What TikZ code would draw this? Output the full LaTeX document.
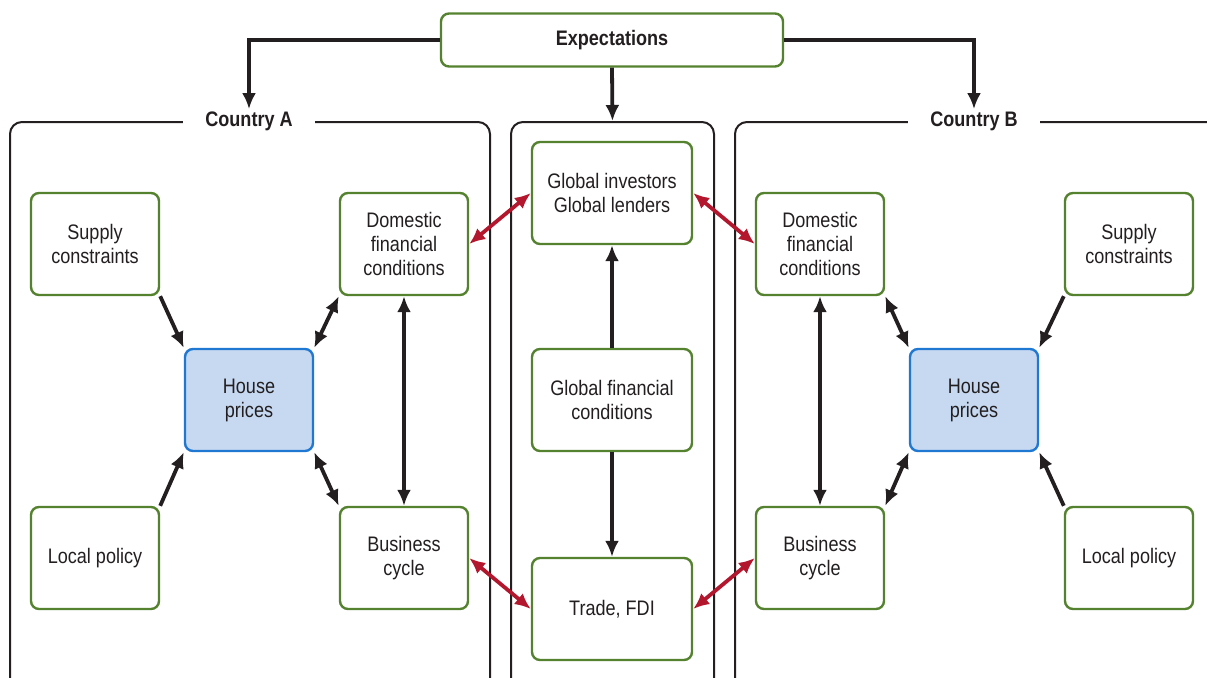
\documentclass[tikz,border=0pt]{standalone}
\usepackage{fontspec}
\setmainfont{Liberation Sans}[FakeStretch=0.86]
\usetikzlibrary{arrows.meta}
\definecolor{boxgreen}{HTML}{55822F}
\definecolor{houseblue}{HTML}{1F78D1}
\definecolor{housefill}{HTML}{C6D9F1}
\definecolor{linkred}{HTML}{B3172E}
\definecolor{linkblack}{HTML}{231F20}

\begin{document}
\begin{tikzpicture}[x=0.5pt, y=-0.5pt, >={Latex[length=8pt,width=7pt]},
  font=\fontsize{10.5}{12}\selectfont,
  box/.style={draw=boxgreen, line width=1.2pt, rounded corners=4pt, fill=white, align=center,
    minimum width=64pt, minimum height=51pt, inner sep=2pt, text=linkblack},
  housebox/.style={box, draw=houseblue, fill=housefill},
  panel/.style={draw=linkblack, line width=1pt, rounded corners=6pt, minimum height=284pt},
  paneltitle/.style={fill=white, font=\fontsize{10.5}{12}\selectfont\bfseries, inner xsep=11pt, inner ysep=1pt, text=linkblack},
  link/.style={draw=linkblack, line width=1.9pt},
  redlink/.style={draw=linkred, line width=1.9pt}]
\useasboundingbox (0,0) rectangle (1207,677);

% panels
\node[panel, minimum width=240pt] (panelA) at (250,406) {};
\node[panel, minimum width=101.5pt] (panelM) at (612.5,406) {};
\node[panel, minimum width=242.5pt] (panelB) at (977.5,406) {};
\node[paneltitle] (ctyA) at (249,121) {Country A};
\node[paneltitle] (ctyB) at (974,121) {Country B};

% top
\node[box, minimum width=171pt, minimum height=26.5pt, font=\fontsize{10.5}{12}\selectfont\bfseries] (exp) at (612,40) {Expectations};

% country A
\node[box] (supA) at (95,244) {Supply\\constraints};
\node[box] (domA) at (404,244) {Domestic\\financial\\conditions};
\node[housebox] (houseA) at (249,400) {House\\prices};
\node[box] (polA) at (95,558) {Local policy};
\node[box] (busA) at (404,558) {Business\\cycle};

% global
\node[box, minimum width=80pt] (ginv) at (612,193) {Global investors\\Global lenders};
\node[box, minimum width=80pt] (gfc) at (612,400) {Global financial\\conditions};
\node[box, minimum width=80pt] (trade) at (612,609) {Trade, FDI};

% country B
\node[box] (domB) at (820,244) {Domestic\\financial\\conditions};
\node[box] (supB) at (1129,244) {Supply\\constraints};
\node[housebox] (houseB) at (974,400) {House\\prices};
\node[box] (busB) at (820,558) {Business\\cycle};
\node[box] (polB) at (1129,558) {Local policy};

% expectations
\draw[->, link] (exp.west) -| (ctyA.north);
\draw[->, link] (exp.east) -| (ctyB.north);
\draw[->, link] (exp.south) -- (panelM.north);

% black links
\draw[->, link] (supA.south east) -- (houseA.north west);
\draw[->, link] (polA.north east) -- (houseA.south west);
\draw[<->, link] (houseA.north east) -- (domA.south west);
\draw[<->, link] (houseA.south east) -- (busA.north west);
\draw[<->, link] (domA.south) -- (busA.north);

\draw[->, link] (supB.south west) -- (houseB.north east);
\draw[->, link] (polB.north west) -- (houseB.south east);
\draw[<->, link] (houseB.north west) -- (domB.south east);
\draw[<->, link] (houseB.south west) -- (busB.north east);
\draw[<->, link] (domB.south) -- (busB.north);

\draw[->, link] (gfc.north) -- (ginv.south);
\draw[->, link] (gfc.south) -- (trade.north);

% red links
\draw[<->, redlink] (domA.east) -- (ginv.west);
\draw[<->, redlink] (busA.east) -- (trade.west);
\draw[<->, redlink] (ginv.east) -- (domB.west);
\draw[<->, redlink] (trade.east) -- (busB.west);

\end{tikzpicture}
\end{document}
